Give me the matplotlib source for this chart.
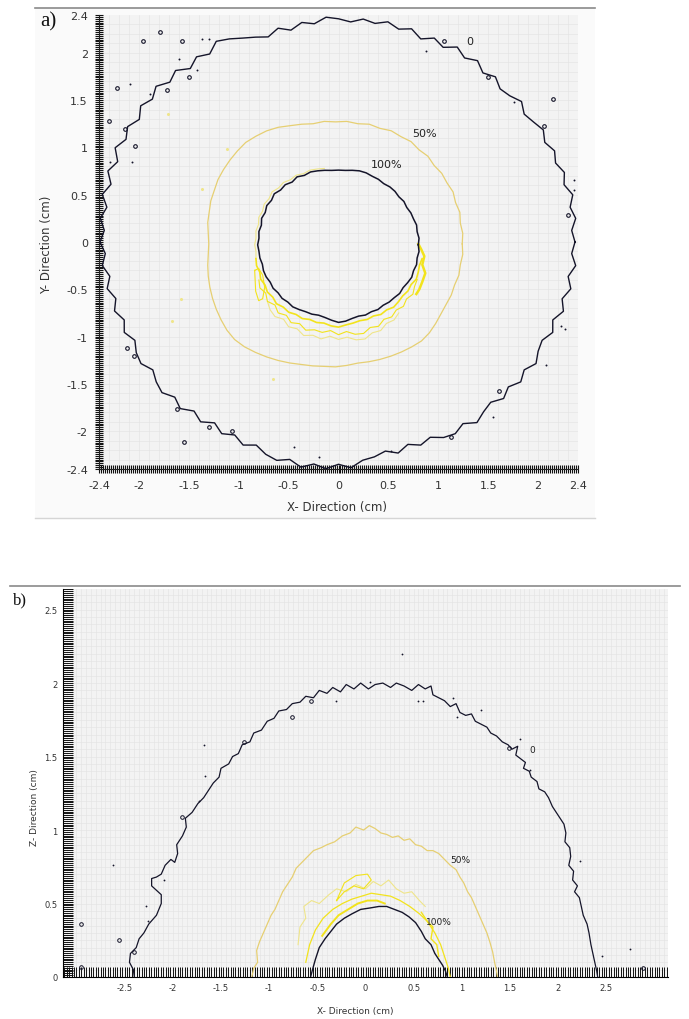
import numpy as np
import matplotlib
matplotlib.use("Agg")
import matplotlib.pyplot as plt
from matplotlib.ticker import FixedLocator, FixedFormatter, MultipleLocator
from matplotlib.patches import Rectangle
from matplotlib.lines import Line2D

# ---------------- panel a : X-Y plane ----------------
a_ticks = [-2.4, -2, -1.5, -1, -0.5, 0, 0.5, 1, 1.5, 2, 2.4]
a_ticklabels = ["-2.4", "-2", "-1.5", "-1", "-0.5", "0", "0.5", "1", "1.5", "2", "2.4"]

# "0" contour, radius every 3 degrees starting at +X
a_zero_r = [2.37, 2.34, 2.39, 2.35, 2.40, 2.34, 2.38, 2.33, 2.37, 2.32,
            2.37, 2.33, 2.30, 2.36, 2.31, 2.29, 2.35, 2.30, 2.37, 2.32,
            2.38, 2.31, 2.36, 2.30, 2.37, 2.33, 2.38, 2.34, 2.37, 2.33,
            2.36, 2.38, 2.32, 2.35, 2.29, 2.34, 2.28, 2.32, 2.36, 2.41,
            2.45, 2.37, 2.42, 2.36, 2.44, 2.39, 2.46, 2.40, 2.45, 2.38,
            2.44, 2.39, 2.45, 2.37, 2.43, 2.36, 2.42, 2.35, 2.40, 2.35,
            2.39, 2.34, 2.38, 2.32, 2.37, 2.31, 2.36, 2.30, 2.35, 2.29,
            2.34, 2.36, 2.30, 2.35, 2.38, 2.32, 2.37, 2.30, 2.35, 2.28,
            2.34, 2.29, 2.35, 2.30, 2.36, 2.39, 2.35, 2.41, 2.36, 2.40,
            2.35, 2.39, 2.32, 2.30, 2.26, 2.31, 2.25, 2.30, 2.26, 2.32,
            2.34, 2.29, 2.36, 2.31, 2.28, 2.34, 2.29, 2.35, 2.30, 2.36,
            2.31, 2.29, 2.35, 2.30, 2.37, 2.32, 2.38, 2.33, 2.39, 2.34]

# "50%" contour, radius every 5 degrees
a_half_r = [1.27, 1.28, 1.27, 1.29, 1.28, 1.30, 1.29, 1.30, 1.29, 1.31,
            1.30, 1.32, 1.31, 1.32, 1.30, 1.31, 1.29, 1.30, 1.29, 1.30,
            1.29, 1.31, 1.33, 1.36, 1.38, 1.39, 1.40, 1.39, 1.38, 1.37,
            1.36, 1.34, 1.33, 1.31, 1.30, 1.28, 1.27, 1.28, 1.30, 1.32,
            1.34, 1.36, 1.38, 1.40, 1.42, 1.43, 1.42, 1.40, 1.38, 1.36,
            1.34, 1.32, 1.31, 1.30, 1.30, 1.29, 1.28, 1.29, 1.30, 1.31,
            1.32, 1.33, 1.34, 1.33, 1.31, 1.29, 1.28, 1.28, 1.27, 1.28,
            1.27, 1.28]

# "100%" contour, radius every 5 degrees
a_full_r = [0.80, 0.81, 0.80, 0.81, 0.80, 0.80, 0.79, 0.80, 0.79, 0.80,
            0.80, 0.79, 0.80, 0.80, 0.81, 0.81, 0.80, 0.79, 0.79, 0.79,
            0.80, 0.81, 0.82, 0.81, 0.83, 0.81, 0.83, 0.82, 0.84, 0.82,
            0.83, 0.81, 0.82, 0.80, 0.81, 0.80, 0.81, 0.80, 0.80, 0.79,
            0.80, 0.80, 0.79, 0.80, 0.79, 0.80, 0.79, 0.80, 0.79, 0.78,
            0.78, 0.77, 0.78, 0.80, 0.82, 0.81, 0.79, 0.78, 0.79, 0.78,
            0.79, 0.78, 0.79, 0.79, 0.80, 0.79, 0.80, 0.81, 0.80, 0.81,
            0.80, 0.81]

# intermediate yellow levels hugging the "100%" contour (angle, radius)
a_ring1_ang = [190, 195, 200, 205, 210, 215, 220, 225, 230, 235, 240, 245, 250,
               255, 260, 265, 270, 275, 280, 285, 290, 295, 300, 305, 310, 315,
               320, 325, 330, 335, 340, 345, 350]
a_ring1_r = [0.84, 0.85, 0.84, 0.86, 0.85, 0.87, 0.86, 0.88, 0.86, 0.87, 0.85,
             0.86, 0.84, 0.85, 0.84, 0.86, 0.87, 0.85, 0.84, 0.83, 0.84, 0.83,
             0.85, 0.84, 0.86, 0.85, 0.84, 0.85, 0.84, 0.86, 0.85, 0.84, 0.85]
a_ring2_ang = [205, 210, 215, 220, 225, 230, 235, 240, 245, 250, 255, 260, 265,
               270, 275, 280, 285, 290, 295, 300, 305, 310, 315, 320, 325, 330, 335]
a_ring2_r = [0.88, 0.91, 0.89, 0.93, 0.90, 0.94, 0.91, 0.95, 0.92, 0.96, 0.93,
             0.94, 0.91, 0.95, 0.92, 0.96, 0.97, 0.93, 0.95, 0.91, 0.93, 0.90,
             0.92, 0.89, 0.91, 0.88, 0.87]
a_ring3_ang = [220, 225, 230, 235, 240, 245, 250, 255, 260, 265, 270, 275, 280,
               285, 290, 295, 300, 305, 310]
a_ring3_r = [0.93, 0.97, 0.99, 0.96, 1.00, 0.98, 1.02, 0.99, 1.01, 0.97, 1.00,
             0.98, 1.02, 1.03, 0.99, 1.00, 0.96, 0.97, 0.94]
a_ring4_ang = [100, 105, 110, 115, 120, 125, 130, 135, 140, 145, 150, 155, 160,
               165, 170, 175, 180, 185, 190]
a_ring4_r = [0.82, 0.83, 0.84, 0.83, 0.85, 0.84, 0.86, 0.85, 0.87, 0.85, 0.86,
             0.84, 0.85, 0.83, 0.84, 0.83, 0.84, 0.83, 0.84]
a_loop_x = [-0.84, -0.80, -0.76, -0.74, -0.76, -0.80, -0.83, -0.84]
a_loop_y = [-0.30, -0.28, -0.35, -0.48, -0.60, -0.62, -0.52, -0.30]
a_side_x = [0.80, 0.83, 0.86, 0.84, 0.87, 0.84, 0.81, 0.78]
a_side_y = [-0.02, -0.08, -0.15, -0.24, -0.33, -0.42, -0.50, -0.55]

# small closed islands and specks of the "0" level
a_isle_x = [-1.96, -1.79, -1.57, -1.50, -1.72, -2.22, -2.30, -2.14, -2.04,
            1.06, 1.50, 2.15, 2.06, 2.30, 1.61, 1.13, -2.12, -2.05, -1.62,
            -1.30, -1.07, -1.55]
a_isle_y = [2.13, 2.22, 2.13, 1.74, 1.61, 1.63, 1.28, 1.20, 1.01,
            2.13, 1.74, 1.51, 1.23, 0.29, -1.58, -2.06, -1.12, -1.20, -1.77,
            -1.96, -2.00, -2.11]
a_speck_x = [-1.37, -1.30, -1.60, -1.42, -2.09, -1.89, -2.07, -2.29, 1.76,
             2.36, 2.36, 2.23, 2.27, 2.08, 1.55, 0.53, -0.45, -0.20, 0.88]
a_speck_y = [2.15, 2.15, 1.93, 1.82, 1.67, 1.56, 0.85, 0.85, 1.48,
             0.66, 0.55, -0.89, -0.92, -1.30, -1.85, -2.21, -2.17, -2.27, 2.02]
a_yspeck_x = [-1.71, -1.37, -1.67, -1.58, -0.66, -1.12]
a_yspeck_y = [1.35, 0.56, -0.83, -0.60, -1.45, 0.98]

# ---------------- panel b : X-Z plane ----------------
b_xticks = [-2.5, -2, -1.5, -1, -0.5, 0, 0.5, 1, 1.5, 2, 2.5]
b_xticklabels = ["-2.5", "-2", "-1.5", "-1", "-0.5", "0", "0.5", "1", "1.5", "2", "2.5"]
b_zticks = [0, 0.5, 1, 1.5, 2, 2.5]
b_zticklabels = ["0", "0.5", "1", "1.5", "2", "2.5"]

b_zero_x = [-2.40, -2.41, -2.45, -2.44, -2.38, -2.35, -2.30, -2.25, -2.17, -2.12,
            -2.12, -2.17, -2.22, -2.22, -2.17, -2.12, -2.08, -2.02, -1.98, -1.95,
            -1.96, -1.90, -1.86, -1.87, -1.80, -1.74, -1.68, -1.62, -1.58, -1.52,
            -1.50, -1.42, -1.38, -1.32, -1.28, -1.20, -1.16, -1.08, -1.02, -0.95,
            -0.90, -0.82, -0.76, -0.68, -0.62, -0.54, -0.48, -0.40, -0.34, -0.26,
            -0.20, -0.12, -0.05, 0.03, 0.10, 0.18, 0.26, 0.32, 0.40, 0.48,
            0.55, 0.62, 0.68, 0.70, 0.76, 0.82, 0.88, 0.94, 0.98, 1.04,
            1.10, 1.14, 1.20, 1.26, 1.30, 1.36, 1.42, 1.48, 1.52, 1.58,
            1.56, 1.62, 1.66, 1.64, 1.70, 1.72, 1.78, 1.80, 1.86, 1.90,
            1.94, 1.98, 2.02, 2.06, 2.08, 2.07, 2.12, 2.13, 2.11, 2.16,
            2.15, 2.20, 2.17, 2.22, 2.24, 2.26, 2.30, 2.32, 2.34, 2.36,
            2.38, 2.40, 2.41]
b_zero_z = [0.00, 0.05, 0.10, 0.16, 0.20, 0.26, 0.30, 0.36, 0.42, 0.50,
            0.56, 0.59, 0.62, 0.67, 0.68, 0.70, 0.76, 0.80, 0.78, 0.84,
            0.90, 0.96, 1.02, 1.08, 1.12, 1.18, 1.22, 1.28, 1.32, 1.36,
            1.42, 1.45, 1.50, 1.52, 1.58, 1.60, 1.66, 1.68, 1.74, 1.76,
            1.81, 1.82, 1.86, 1.87, 1.91, 1.90, 1.95, 1.93, 1.97, 1.94,
            1.99, 1.96, 2.00, 1.96, 1.99, 2.00, 1.97, 2.00, 1.98, 1.95,
            1.99, 1.96, 1.98, 1.92, 1.90, 1.88, 1.84, 1.86, 1.80, 1.78,
            1.79, 1.74, 1.72, 1.70, 1.66, 1.64, 1.60, 1.58, 1.55, 1.57,
            1.51, 1.48, 1.46, 1.42, 1.40, 1.36, 1.33, 1.28, 1.26, 1.22,
            1.16, 1.12, 1.08, 1.04, 0.98, 0.92, 0.88, 0.82, 0.76, 0.72,
            0.66, 0.62, 0.58, 0.54, 0.48, 0.42, 0.36, 0.30, 0.22, 0.16,
            0.10, 0.04, 0.00]

b_half_x = [-1.18, -1.16, -1.12, -1.13, -1.10, -1.06, -1.02, -0.98, -0.94, -0.90,
            -0.86, -0.82, -0.76, -0.72, -0.66, -0.60, -0.54, -0.46, -0.40, -0.32,
            -0.24, -0.16, -0.10, -0.02, 0.04, 0.10, 0.16, 0.22, 0.28, 0.34,
            0.40, 0.46, 0.52, 0.58, 0.64, 0.70, 0.76, 0.82, 0.88, 0.94,
            0.98, 1.02, 1.06, 1.10, 1.14, 1.18, 1.22, 1.26, 1.29, 1.32,
            1.34, 1.36, 1.37]
b_half_z = [0.00, 0.06, 0.10, 0.18, 0.24, 0.30, 0.36, 0.42, 0.46, 0.52,
            0.58, 0.62, 0.68, 0.74, 0.78, 0.82, 0.86, 0.88, 0.90, 0.92,
            0.96, 0.98, 1.02, 1.00, 1.03, 1.01, 0.98, 0.97, 0.95, 0.96,
            0.93, 0.94, 0.90, 0.89, 0.86, 0.86, 0.84, 0.80, 0.76, 0.73,
            0.68, 0.64, 0.58, 0.54, 0.48, 0.42, 0.36, 0.30, 0.24, 0.17,
            0.10, 0.04, 0.00]

b_full_x = [-0.57, -0.55, -0.52, -0.48, -0.42, -0.36, -0.30, -0.22, -0.14, -0.05,
            0.05, 0.14, 0.22, 0.30, 0.38, 0.45, 0.52, 0.58, 0.62, 0.68,
            0.72, 0.76, 0.80, 0.83, 0.85]
b_full_z = [0.00, 0.05, 0.12, 0.20, 0.26, 0.31, 0.36, 0.40, 0.43, 0.46,
            0.47, 0.48, 0.48, 0.46, 0.44, 0.41, 0.37, 0.31, 0.26, 0.22,
            0.16, 0.12, 0.08, 0.04, 0.00]

# intermediate yellow levels around the "100%" contour
b_y1_x = [-0.62, -0.58, -0.52, -0.44, -0.34, -0.24, -0.14, -0.04, 0.06, 0.16,
          0.26, 0.36, 0.46, 0.56, 0.64, 0.72, 0.78, 0.82, 0.86, 0.88]
b_y1_z = [0.10, 0.22, 0.32, 0.40, 0.46, 0.50, 0.53, 0.55, 0.57, 0.56,
          0.55, 0.52, 0.48, 0.43, 0.38, 0.30, 0.22, 0.14, 0.06, 0.00]
b_y2_x = [-0.70, -0.68, -0.62, -0.64, -0.56, -0.48, -0.38, -0.30, -0.20, -0.10,
          0.00, 0.08, 0.16, 0.24, 0.32, 0.40, 0.48, 0.56, 0.62]
b_y2_z = [0.22, 0.34, 0.40, 0.48, 0.52, 0.50, 0.56, 0.60, 0.58, 0.63,
          0.60, 0.65, 0.62, 0.66, 0.60, 0.57, 0.58, 0.52, 0.48]
b_y3_x = [-0.45, -0.36, -0.28, -0.18, -0.08, 0.02, 0.12, 0.20]
b_y3_z = [0.28, 0.36, 0.42, 0.46, 0.50, 0.52, 0.52, 0.50]
b_y4_x = [-0.30, -0.22, -0.12, -0.02, 0.06, 0.02, -0.10, -0.22, -0.30]
b_y4_z = [0.52, 0.58, 0.62, 0.60, 0.66, 0.70, 0.69, 0.64, 0.52]
b_y5_x = [0.58, 0.64, 0.70, 0.68, 0.74, 0.76]
b_y5_z = [0.44, 0.38, 0.34, 0.26, 0.22, 0.14]

b_isle_x = [-2.95, -2.95, -2.56, -2.40, -1.90, -1.26, -0.76, -0.57, 1.49, 2.88]
b_isle_z = [0.36, 0.07, 0.25, 0.17, 1.09, 1.60, 1.77, 1.88, 1.56, 0.06]
b_speck_x = [-2.28, -2.26, -2.09, -2.62, -1.73, -1.68, -1.67, -0.31, 0.38, 0.05,
             0.54, 0.60, 0.95, 0.91, 1.60, 1.71, 2.23, 2.46, 2.75, 1.20]
b_speck_z = [0.48, 0.38, 0.66, 0.76, 1.20, 1.58, 1.37, 1.88, 2.20, 2.01,
             1.88, 1.88, 1.77, 1.90, 1.62, 1.41, 0.79, 0.14, 0.19, 1.82]

# ---------------- styling ----------------
BLACK = "#15152a"
GOLD = "#e6cf72"
BRIGHT = "#f2e31c"
PALE = "#efe58a"
TICKFONT = "DejaVu Sans"


def polar(r_list, angles, cx=0.0, cy=0.0, close=False):
    th = np.deg2rad(np.asarray(angles, dtype=float))
    r = np.asarray(r_list, dtype=float)
    x = cx + r * np.cos(th)
    y = cy + r * np.sin(th)
    if close:
        x = np.append(x, x[0])
        y = np.append(y, y[0])
    return x, y


def background_grid(ax, xlim, ylim, step):
    for gx in np.arange(np.ceil(xlim[0] / step) * step, xlim[1], step):
        ax.axvline(gx, color="#e4e4e4", lw=0.45, zorder=0)
    for gy in np.arange(np.ceil(ylim[0] / step) * step, ylim[1], step):
        ax.axhline(gy, color="#e4e4e4", lw=0.45, zorder=0)


fig = plt.figure(figsize=(6.89, 10.2), dpi=100)
W, H = 689.0, 1020.0

# panel a frame
fig.patches.append(Rectangle((35 / W, 1 - 519 / H), 560 / W, 510 / H,
                             transform=fig.transFigure, facecolor="#fafafa",
                             edgecolor="none", zorder=-5))
fig.lines.append(Line2D([35 / W, 595 / W], [1 - 9 / H, 1 - 9 / H],
                        transform=fig.transFigure, color="#8a8a8a", lw=1.2))
fig.lines.append(Line2D([35 / W, 595 / W], [1 - 519 / H, 1 - 519 / H],
                        transform=fig.transFigure, color="#d5d5d5", lw=1.0))
fig.lines.append(Line2D([10 / W, 680 / W], [1 - 587 / H, 1 - 587 / H],
                        transform=fig.transFigure, color="#8a8a8a", lw=1.2))

# ---------- panel a ----------
axa = fig.add_axes([99 / W, 1 - 470 / H, 479 / W, 454 / H])
axa.set_facecolor("#f3f3f3")
axa.set_xlim(-2.4, 2.4)
axa.set_ylim(-2.4, 2.4)
background_grid(axa, (-2.4, 2.4), (-2.4, 2.4), 0.1)

ang3 = np.arange(0, 360, 3)
ang5 = np.arange(0, 360, 5)
x, y = polar(a_zero_r, ang3, 0.0, 0.0, close=True)
axa.plot(x, y, color=BLACK, lw=1.0, zorder=4)
x, y = polar(a_half_r, ang5, -0.03, -0.02, close=True)
axa.plot(x, y, color=GOLD, lw=0.9, zorder=3)
x, y = polar(a_ring4_r, a_ring4_ang, 0.0, -0.03)
axa.plot(x, y, color=PALE, lw=0.8, zorder=3)
x, y = polar(a_ring3_r, a_ring3_ang, 0.0, -0.03)
axa.plot(x, y, color=PALE, lw=0.8, zorder=3)
x, y = polar(a_ring2_r, a_ring2_ang, 0.0, -0.03)
axa.plot(x, y, color=BRIGHT, lw=0.8, zorder=3)
x, y = polar(a_ring1_r, a_ring1_ang, 0.0, -0.03)
axa.plot(x, y, color=BRIGHT, lw=1.2, zorder=3)
axa.plot(a_loop_x, a_loop_y, color=BRIGHT, lw=0.8, zorder=3)
axa.plot(a_side_x, a_side_y, color=BRIGHT, lw=1.8, zorder=3)
x, y = polar(a_full_r, ang5, 0.0, -0.03, close=True)
axa.plot(x, y, color=BLACK, lw=1.1, zorder=5)

axa.plot(a_isle_x, a_isle_y, "o", ms=2.6, mfc="none", mec=BLACK, mew=0.8, zorder=4)
axa.plot(a_speck_x, a_speck_y, "o", ms=1.4, mfc=BLACK, mec="none", zorder=4)
axa.plot(a_yspeck_x, a_yspeck_y, "o", ms=2.2, mfc=PALE, mec="none", zorder=3)

axa.text(1.32, 2.12, "0", fontsize=8, color="#222222", ha="center", va="center", zorder=6)
axa.text(0.86, 1.15, "50%", fontsize=8, color="#222222", ha="center", va="center", zorder=6)
axa.text(0.48, 0.82, "100%", fontsize=8, color="#222222", ha="center", va="center", zorder=6)

for side in ("top", "right"):
    axa.spines[side].set_visible(False)
axa.spines["left"].set_color("#222222")
axa.spines["bottom"].set_color("#222222")
axa.xaxis.set_major_locator(FixedLocator(a_ticks))
axa.xaxis.set_major_formatter(FixedFormatter(a_ticklabels))
axa.yaxis.set_major_locator(FixedLocator(a_ticks))
axa.yaxis.set_major_formatter(FixedFormatter(a_ticklabels))
axa.xaxis.set_minor_locator(MultipleLocator(0.02))
axa.yaxis.set_minor_locator(MultipleLocator(0.02))
axa.tick_params(which="both", direction="inout", color="#111111", width=0.8)
axa.tick_params(which="major", length=6, labelsize=8, pad=5)
axa.tick_params(which="minor", length=6)
for lab in axa.get_xticklabels() + axa.get_yticklabels():
    lab.set_fontfamily(TICKFONT)
    lab.set_color("#333333")

fig.text(337 / W, 1 - 507 / H, "X- Direction (cm)", fontsize=8.5, ha="center",
         va="center", color="#333333")
fig.text(47 / W, 1 - 245 / H, "Y- Direction (cm)", fontsize=8.5, ha="center",
         va="center", rotation=90, color="#333333")
fig.text(48 / W, 1 - 22 / H, "a)", fontsize=15, family="Liberation Serif",
         ha="center", va="center", color="#111111")

# ---------- panel b ----------
axb = fig.add_axes([63 / W, 1 - 978 / H, 605 / W, 388 / H])
axb.set_facecolor("#f3f3f3")
axb.set_xlim(-3.14, 3.14)
axb.set_ylim(0, 2.64)
background_grid(axb, (-3.14, 3.14), (0, 2.64), 0.05)

axb.plot(b_zero_x, b_zero_z, color=BLACK, lw=0.9, zorder=4)
axb.plot(b_half_x, b_half_z, color=GOLD, lw=0.9, zorder=3)
axb.plot(b_y2_x, b_y2_z, color=PALE, lw=0.8, zorder=3)
axb.plot(b_y4_x, b_y4_z, color=BRIGHT, lw=0.8, zorder=3)
axb.plot(b_y1_x, b_y1_z, color=BRIGHT, lw=0.9, zorder=3)
axb.plot(b_y3_x, b_y3_z, color=BRIGHT, lw=1.4, zorder=3)
axb.plot(b_y5_x, b_y5_z, color=BRIGHT, lw=1.0, zorder=3)
axb.plot(b_full_x, b_full_z, color=BLACK, lw=1.0, zorder=5)
axb.plot(b_isle_x, b_isle_z, "o", ms=2.6, mfc="none", mec=BLACK, mew=0.7, zorder=4)
axb.plot(b_speck_x, b_speck_z, "o", ms=1.3, mfc=BLACK, mec="none", zorder=4)

axb.text(1.73, 1.55, "0", fontsize=6.5, color="#222222", ha="center", va="center", zorder=6)
axb.text(0.98, 0.80, "50%", fontsize=6.5, color="#222222", ha="center", va="center", zorder=6)
axb.text(0.76, 0.38, "100%", fontsize=6.5, color="#222222", ha="center", va="center", zorder=6)

for side in ("top", "right"):
    axb.spines[side].set_visible(False)
axb.xaxis.set_major_locator(FixedLocator(b_xticks))
axb.xaxis.set_major_formatter(FixedFormatter(b_xticklabels))
axb.yaxis.set_major_locator(FixedLocator(b_zticks))
axb.yaxis.set_major_formatter(FixedFormatter(b_zticklabels))
axb.xaxis.set_minor_locator(MultipleLocator(0.025))
axb.yaxis.set_minor_locator(MultipleLocator(0.0125))
axb.tick_params(which="both", direction="in", color="#111111", width=0.7)
axb.tick_params(which="major", length=7, labelsize=6, pad=4)
axb.tick_params(which="minor", length=7)
for lab in axb.get_xticklabels() + axb.get_yticklabels():
    lab.set_fontfamily(TICKFONT)
    lab.set_color("#333333")

fig.text(355 / W, 1 - 1012 / H, "X- Direction (cm)", fontsize=6.5, ha="center",
         va="center", color="#333333")
fig.text(35 / W, 1 - 808 / H, "Z- Direction (cm)", fontsize=6.5, ha="center",
         va="center", rotation=90, color="#333333")
fig.text(20 / W, 1 - 600 / H, "b)", fontsize=12, family="Liberation Serif",
         ha="center", va="center", color="#111111")

fig.savefig("out.png", dpi=100, facecolor="white")
